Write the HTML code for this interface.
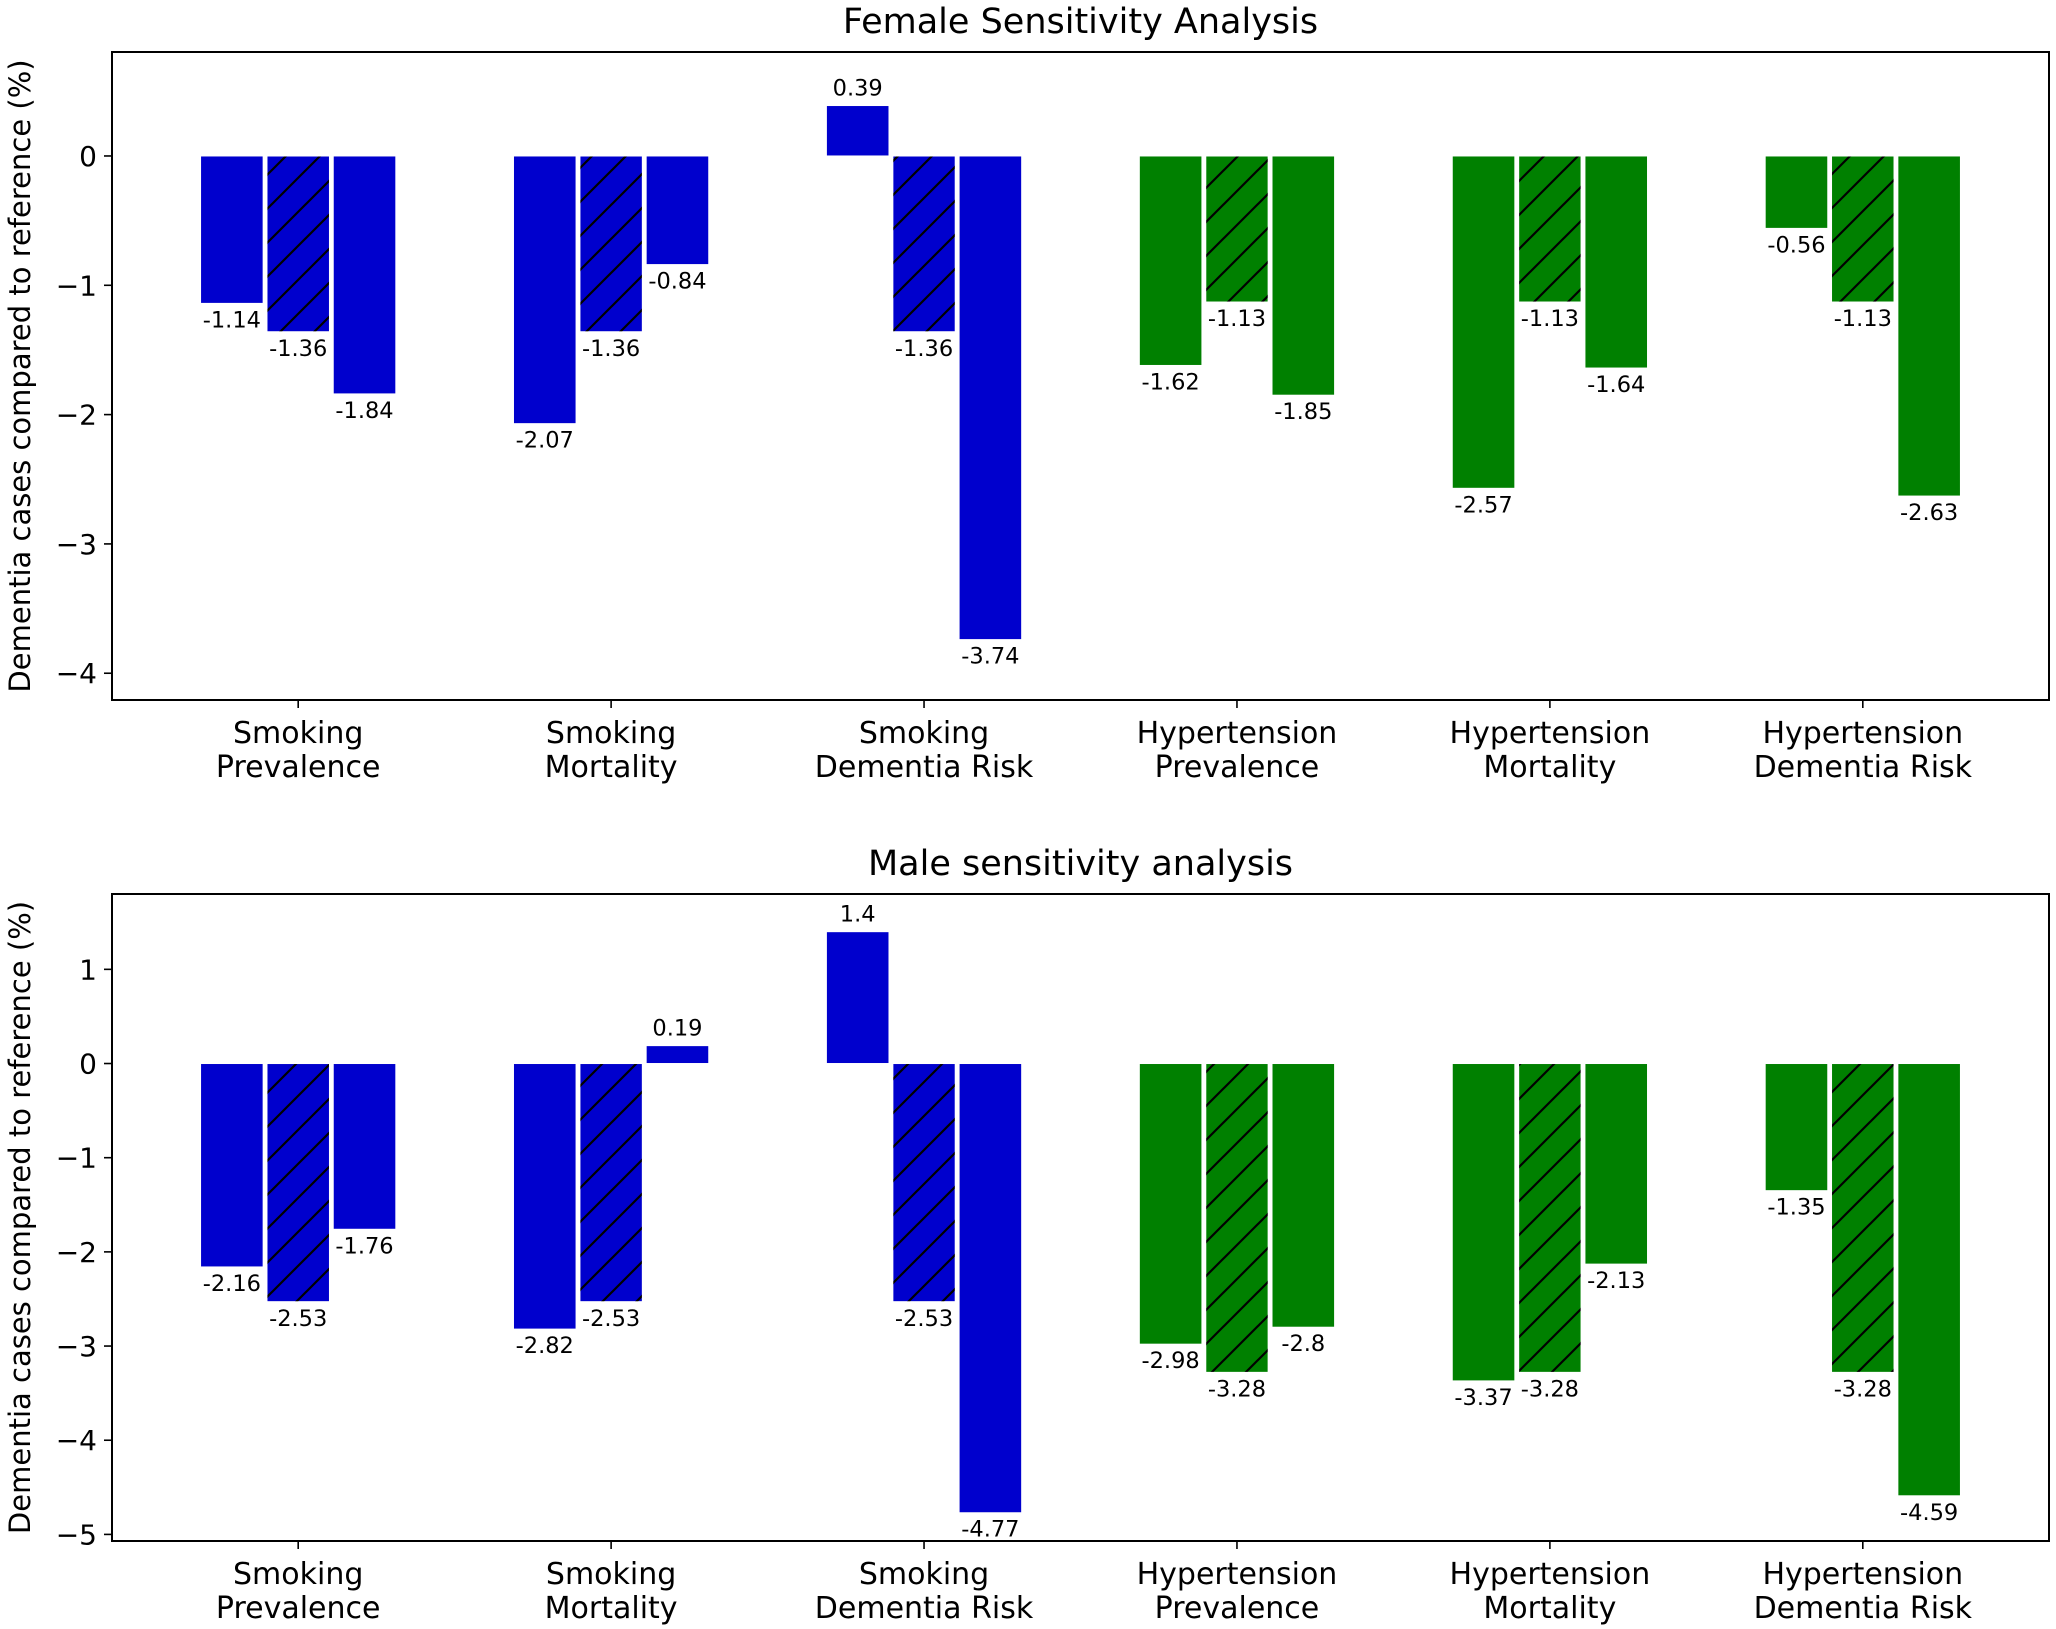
<!DOCTYPE html>
<html><head><meta charset="utf-8"><style>
html,body{margin:0;padding:0;background:#fff;}
svg{display:block;}
text{font-family:"DejaVu Sans","Liberation Sans",sans-serif;fill:#000;}
</style></head><body>
<svg id="chart" width="2056" height="1629" viewBox="0 0 2056 1629" xmlns="http://www.w3.org/2000/svg">
<defs>
<pattern id="hatch" patternUnits="userSpaceOnUse" width="34" height="34">
<path d="M-4,38 L38,-4 M-4,4 L4,-4 M30,38 L38,30" stroke="#000" stroke-width="2.2"/>
</pattern>
</defs>
</svg>
<script>
const categories = ["Smoking\nPrevalence","Smoking\nMortality","Smoking\nDementia Risk","Hypertension\nPrevalence","Hypertension\nMortality","Hypertension\nDementia Risk"];
const groupColors = ["#0000cd","#0000cd","#0000cd","#008000","#008000","#008000"];
const femaleValues = [[-1.14,-1.36,-1.84],[-2.07,-1.36,-0.84],[0.39,-1.36,-3.74],[-1.62,-1.13,-1.85],[-2.57,-1.13,-1.64],[-0.56,-1.13,-2.63]];
const maleValues = [[-2.16,-2.53,-1.76],[-2.82,-2.53,0.19],[1.4,-2.53,-4.77],[-2.98,-3.28,-2.8],[-3.37,-3.28,-2.13],[-1.35,-3.28,-4.59]];
const femaleTicks = [0,-1,-2,-3,-4];
const maleTicks = [1,0,-1,-2,-3,-4,-5];

const svg = document.getElementById('chart');
const NS = 'http://www.w3.org/2000/svg';
function mk(tag, attrs, txt){const e=document.createElementNS(NS,tag);for(const k in attrs)e.setAttribute(k,attrs[k]);if(txt!==undefined)e.textContent=txt;svg.appendChild(e);return e;}

const L=112, R=2049;
const xmin=-0.595, xmax=5.595;
function xs(v){return L+(v-xmin)/(xmax-xmin)*(R-L);}

function panel(prefix, title, values, ticks, top, bottom, ymax, ymin, titleY){
  const ys=v=>top+(ymax-v)/(ymax-ymin)*(bottom-top);
  let t=mk('text',{x:(L+R)/2,y:titleY,'font-size':'35','text-anchor':'middle'},title);
  
  
  const off=0.212, w=0.2;
  values.forEach((grp,gi)=>{
    grp.forEach((v,bi)=>{
      const cx=gi+(bi-1)*off;
      const x0=xs(cx-w/2), x1=xs(cx+w/2);
      const y0=ys(Math.max(v,0)), y1=ys(Math.min(v,0));
      const r=mk('rect',{x:x0,y:y0,width:x1-x0,height:y1-y0,fill:groupColors[gi],stroke:'#fff','stroke-width':'1'});
      
      
      if(bi===1){
        const h=mk('rect',{x:x0,y:y0,width:x1-x0,height:y1-y0,fill:'url(#hatch)',stroke:'#fff','stroke-width':'1'});
        
        
      }
      const lbl=mk('text',{x:(x0+x1)/2,y:v>=0?y0-10:y1+24,'font-size':'22.5','text-anchor':'middle'},String(v));
      
      
    });
  });
  const f=mk('rect',{x:L,y:top,width:R-L,height:bottom-top,fill:'none',stroke:'#000','stroke-width':'2'});
  
  
  ticks.forEach(tv=>{
    const y=ys(tv);
    mk('line',{x1:L-8,x2:L,y1:y,y2:y,stroke:'#000','stroke-width':'1.6'});
    const tl=mk('text',{x:L-15,y:y+10,'font-size':'28','text-anchor':'end'},tv<0?'\u2212'+Math.abs(tv):String(tv));
    
    
  });
  categories.forEach((c,i)=>{
    const x=xs(i);
    mk('line',{x1:x,x2:x,y1:bottom,y2:bottom+8,stroke:'#000','stroke-width':'1.6'});
    c.split('\n').forEach((ln,li)=>{
      const ct=mk('text',{x:x,y:bottom+43+li*34,'font-size':'30','text-anchor':'middle'},ln);
      
      
    });
  });
  const yc=(top+bottom)/2;
  const yl=mk('text',{x:30,y:yc,'font-size':'29','text-anchor':'middle',transform:'rotate(-90 30 '+yc+')'},'Dementia cases compared to reference (%)');
  
  
}
panel('female','Female Sensitivity Analysis',femaleValues,femaleTicks,52,700,0.804,-4.207,33);
panel('male','Male sensitivity analysis',maleValues,maleTicks,894,1541,1.80,-5.07,875);
</script>
</body></html>
